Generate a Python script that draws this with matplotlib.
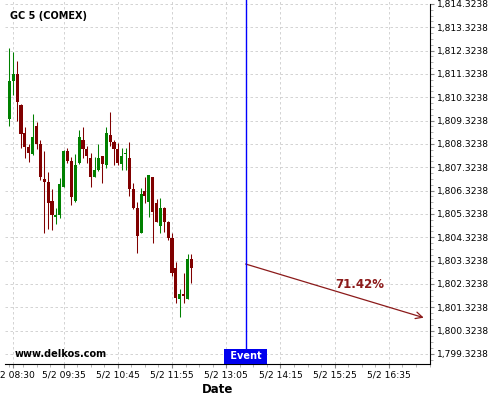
import matplotlib
matplotlib.use('Agg')
import matplotlib.pyplot as plt
import numpy as np
from matplotlib.ticker import FixedLocator, AutoMinorLocator, FuncFormatter

# 5-minute bars, first bar at 08:25 (minutes since midnight)
start_min = 8 * 60 + 25
opens = [1809.41, 1811.02, 1811.32, 1810.00, 1808.80, 1808.20, 1807.90, 1809.10,
         1808.32, 1806.81, 1806.70, 1805.88, 1805.21, 1805.28, 1806.49, 1808.02,
         1807.61, 1805.89, 1807.52, 1808.50, 1808.10, 1807.74, 1806.92, 1807.21,
         1807.81, 1807.42, 1808.71, 1808.41, 1808.10, 1807.45, 1807.91, 1807.74,
         1806.38, 1805.59, 1804.52, 1806.31, 1805.85, 1806.90, 1805.78, 1804.82,
         1805.57, 1804.99, 1804.31, 1803.02, 1801.68, 1801.90, 1801.68, 1803.40]
highs = [1812.43, 1812.28, 1811.89, 1810.04, 1809.07, 1808.32, 1809.60, 1809.25,
         1808.50, 1808.02, 1807.11, 1806.38, 1805.57, 1806.87, 1808.07, 1808.17,
         1807.77, 1807.88, 1808.92, 1809.07, 1808.24, 1807.93, 1807.78, 1808.31,
         1807.83, 1809.07, 1809.71, 1808.50, 1808.35, 1808.17, 1808.15, 1808.40,
         1806.67, 1805.85, 1806.45, 1806.90, 1807.00, 1806.93, 1805.95, 1806.00,
         1805.64, 1805.02, 1804.50, 1803.28, 1802.10, 1802.78, 1803.60, 1803.60]
lows = [1809.10, 1810.42, 1809.31, 1808.17, 1807.71, 1807.57, 1807.85, 1808.11,
        1806.78, 1804.52, 1804.67, 1804.64, 1804.90, 1805.15, 1806.46, 1807.52,
        1805.70, 1805.85, 1807.45, 1807.74, 1807.50, 1806.49, 1806.90, 1807.18,
        1806.67, 1807.28, 1808.24, 1807.42, 1807.42, 1807.21, 1807.21, 1806.10,
        1805.53, 1803.67, 1804.50, 1805.78, 1805.18, 1804.07, 1804.98, 1804.50,
        1804.57, 1804.21, 1802.67, 1801.50, 1800.90, 1801.50, 1801.66, 1802.38]
closes = [1811.02, 1811.32, 1810.12, 1808.74, 1808.21, 1807.93, 1808.61, 1808.32,
          1806.92, 1806.70, 1805.81, 1805.28, 1805.28, 1806.60, 1808.02, 1807.61,
          1806.04, 1807.42, 1808.61, 1808.10, 1807.82, 1806.92, 1807.21, 1807.71,
          1807.45, 1808.78, 1808.42, 1808.09, 1807.52, 1807.81, 1807.93, 1806.38,
          1805.59, 1804.38, 1806.18, 1806.11, 1807.00, 1805.40, 1804.99, 1805.59,
          1804.99, 1804.31, 1802.78, 1801.71, 1801.88, 1801.82, 1803.40, 1803.02]

event_min = 13 * 60 + 30
arrow_start = (event_min, 1803.18)
arrow_end = (17 * 60 + 20, 1800.88)
pct_label = '71.42%'
pct_pos = (958, 1802.32)

# tick times as shown on the axis
x_ticks = [510, 575, 645, 715, 785, 855, 925, 995]
y_ticks = [1799.3238 + k for k in range(16)]

up_col = '#008000'
dn_col = '#800000'

fig = plt.figure(figsize=(5, 4), dpi=100)
ax = fig.add_axes([0.01, 0.09, 0.85, 0.91])

t = start_min + 5 * np.arange(len(opens))
o = np.array(opens); h = np.array(highs); l = np.array(lows); c = np.array(closes)
cols = np.where(c >= o, up_col, dn_col)
ax.vlines(t, l, h, colors=cols, linewidth=0.75, zorder=3)
body = np.maximum(np.abs(c - o), 0.04)
ax.bar(t, body, bottom=np.minimum(o, c), width=4.0, color=cols, linewidth=0, zorder=4)

ax.axvline(event_min, color='#0000ff', linewidth=1, zorder=5)
ax.annotate(' Event ', xy=(event_min, 0), xycoords=('data', 'axes fraction'),
            xytext=(0, 2), textcoords='offset points', ha='center', va='bottom',
            color='white', fontsize=7, fontweight='bold', zorder=6,
            bbox=dict(boxstyle='square,pad=0.25', fc='#0000ee', ec='none'))

ax.annotate('', xy=arrow_end, xytext=arrow_start,
            arrowprops=dict(arrowstyle='->', color='#8b1a1a', lw=0.9,
                            mutation_scale=12, shrinkA=0, shrinkB=0))
ax.text(pct_pos[0], pct_pos[1], pct_label, color='#8b1a1a', fontsize=8.5,
        fontweight='bold', ha='center', va='center')

ax.set_xlim(499.3, 1048.1)
ax.set_ylim(1798.895, 1814.495)

minor_x = [v for v in np.arange(505 - 17.5 * 0, 1050, 17.5)]
ax.xaxis.set_major_locator(FixedLocator(x_ticks))
ax.xaxis.set_minor_locator(FixedLocator(list(np.arange(575 - 70, 1050, 17.5))))
ax.xaxis.set_major_formatter(FuncFormatter(lambda v, p: '5/2 %02d:%02d' % (int(v) // 60, int(v) % 60)))
ax.yaxis.tick_right()
ax.yaxis.set_major_locator(FixedLocator(y_ticks))
ax.yaxis.set_minor_locator(AutoMinorLocator(4))
ax.yaxis.set_major_formatter(FuncFormatter(lambda v, p: '{:,.4f}'.format(v)))

ax.tick_params(axis='both', which='major', labelsize=6.6, length=3, color='#888888', pad=2)
ax.tick_params(axis='both', which='minor', length=2, color='#aaaaaa')
ax.grid(True, which='major', color='#cccccc', linestyle=(0, (3, 3)), linewidth=0.6)
ax.set_axisbelow(True)

for s in ('left', 'top'):
    ax.spines[s].set_visible(False)
ax.spines['right'].set_bounds(1798.895, 1814.3238)

ax.set_xlabel('Date', fontsize=8.5, fontweight='bold', labelpad=2)

fig.text(10 / 500, 1 - 16 / 400, 'GC 5 (COMEX)', fontsize=7, fontweight='bold', va='center')
fig.text(15 / 500, 1 - 354 / 400, 'www.delkos.com', fontsize=7, fontweight='bold', va='center')

fig.savefig('out.png', dpi=100)
